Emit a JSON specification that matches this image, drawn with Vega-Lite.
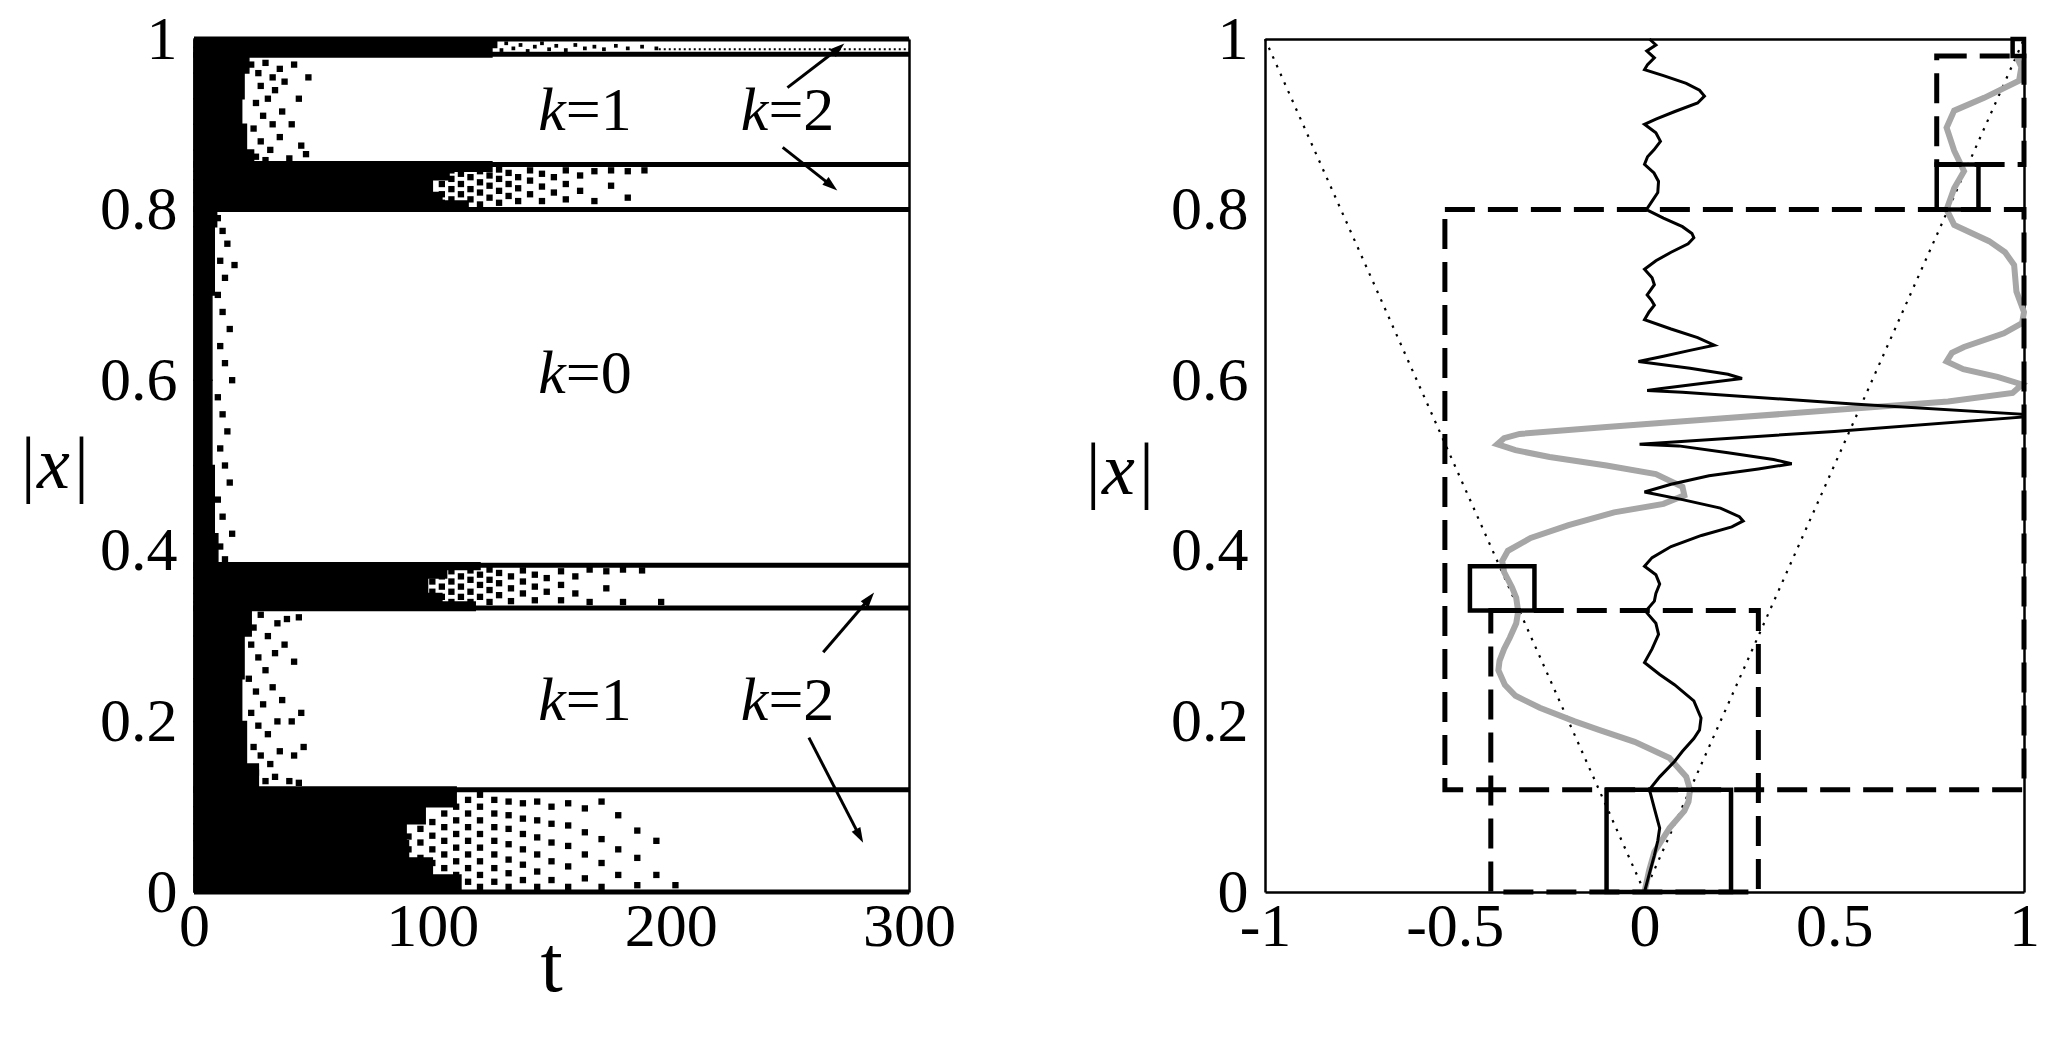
{
  "$schema": "https://vega.github.io/schema/vega-lite/v6.json",
  "background": "white",
  "padding": {"left": 16, "top": 8, "right": 5, "bottom": 5},
  "spacing": 356,
  "bounds": "flush",
  "config": {
    "view": {"stroke": null},
    "font": "Liberation Serif, 'Times New Roman', 'DejaVu Serif', serif",
    "axis": {
      "grid": false, "domainColor": "black", "domainWidth": 2.5,
      "tickColor": "black", "tickWidth": 1.6, "tickSize": 0,
      "labelFont": "Liberation Serif, 'Times New Roman', 'DejaVu Serif', serif", "labelFontSize": 62, "labelColor": "black",
      "labelFlush": false, "labelOverlap": false,
      "titleFont": "Liberation Serif, 'Times New Roman', 'DejaVu Serif', serif", "titleColor": "black", "titleFontWeight": "normal"
    }
  },
  "datasets": {
    "bands": [
      {"y0": 0.979, "y1": 0.99, "t": 125}, {"y0": 0.99, "y1": 1.0, "t": 127},
      {"y0": 0.85, "y1": 0.87, "t": 25}, {"y0": 0.87, "y1": 0.9, "t": 22}, {"y0": 0.9, "y1": 0.93, "t": 20}, {"y0": 0.93, "y1": 0.96, "t": 21}, {"y0": 0.96, "y1": 0.984, "t": 23},
      {"y0": 0.798, "y1": 0.81, "t": 115}, {"y0": 0.81, "y1": 0.82, "t": 104}, {"y0": 0.82, "y1": 0.835, "t": 100}, {"y0": 0.835, "y1": 0.845, "t": 107}, {"y0": 0.845, "y1": 0.856, "t": 125},
      {"y0": 0.38, "y1": 0.42, "t": 10}, {"y0": 0.42, "y1": 0.5, "t": 8.5}, {"y0": 0.5, "y1": 0.6, "t": 7.5}, {"y0": 0.6, "y1": 0.7, "t": 7.5}, {"y0": 0.7, "y1": 0.78, "t": 8.5}, {"y0": 0.78, "y1": 0.803, "t": 9.5},
      {"y0": 0.33, "y1": 0.34, "t": 118}, {"y0": 0.34, "y1": 0.35, "t": 104}, {"y0": 0.35, "y1": 0.368, "t": 98}, {"y0": 0.368, "y1": 0.378, "t": 106}, {"y0": 0.378, "y1": 0.386, "t": 120},
      {"y0": 0.117, "y1": 0.15, "t": 27}, {"y0": 0.15, "y1": 0.2, "t": 22}, {"y0": 0.2, "y1": 0.25, "t": 20}, {"y0": 0.25, "y1": 0.3, "t": 21}, {"y0": 0.3, "y1": 0.335, "t": 24},
      {"y0": 0.0, "y1": 0.02, "t": 112}, {"y0": 0.02, "y1": 0.04, "t": 100}, {"y0": 0.04, "y1": 0.06, "t": 90}, {"y0": 0.06, "y1": 0.08, "t": 89}, {"y0": 0.08, "y1": 0.1, "t": 97}, {"y0": 0.1, "y1": 0.123, "t": 110}
    ],
    "lines": [{"y": 1.0}, {"y": 0.982}, {"y": 0.853}, {"y": 0.8}, {"y": 0.383}, {"y": 0.333}, {"y": 0.12}, {"y": 0.0}],
    "faint": [{"t0": 195, "t1": 300, "y": 0.988}],
    "topdots": [
      {"t": 126, "y": 0.992}, {"t": 129, "y": 0.987}, {"t": 131, "y": 0.995}, {"t": 134, "y": 0.989}, {"t": 137, "y": 0.993}, {"t": 140, "y": 0.986}, {"t": 143, "y": 0.991}, {"t": 146, "y": 0.995}, {"t": 149, "y": 0.988}, {"t": 152, "y": 0.992}, {"t": 156, "y": 0.987}, {"t": 160, "y": 0.993}, {"t": 164, "y": 0.989}, {"t": 168, "y": 0.991}, {"t": 172, "y": 0.988}, {"t": 177, "y": 0.992}, {"t": 182, "y": 0.989}, {"t": 188, "y": 0.991}, {"t": 194, "y": 0.989}
    ],
    "dots": [
      {"t": 104, "y": 0.808}, {"t": 104, "y": 0.818}, {"t": 104, "y": 0.83}, {"t": 104, "y": 0.842},
      {"t": 108, "y": 0.812}, {"t": 108, "y": 0.824}, {"t": 108, "y": 0.836}, {"t": 108, "y": 0.846},
      {"t": 112, "y": 0.806}, {"t": 112, "y": 0.818}, {"t": 112, "y": 0.83}, {"t": 112, "y": 0.842},
      {"t": 116, "y": 0.812}, {"t": 116, "y": 0.824}, {"t": 116, "y": 0.838},
      {"t": 120, "y": 0.806}, {"t": 120, "y": 0.82}, {"t": 120, "y": 0.832}, {"t": 120, "y": 0.845},
      {"t": 124, "y": 0.814}, {"t": 124, "y": 0.828}, {"t": 124, "y": 0.84},
      {"t": 128, "y": 0.808}, {"t": 128, "y": 0.822}, {"t": 128, "y": 0.836}, {"t": 128, "y": 0.847},
      {"t": 132, "y": 0.816}, {"t": 132, "y": 0.83}, {"t": 132, "y": 0.843},
      {"t": 136, "y": 0.81}, {"t": 136, "y": 0.825}, {"t": 136, "y": 0.838},
      {"t": 141, "y": 0.818}, {"t": 141, "y": 0.834}, {"t": 141, "y": 0.846},
      {"t": 146, "y": 0.81}, {"t": 146, "y": 0.827}, {"t": 146, "y": 0.842},
      {"t": 151, "y": 0.82}, {"t": 151, "y": 0.838},
      {"t": 156, "y": 0.812}, {"t": 156, "y": 0.83}, {"t": 156, "y": 0.846},
      {"t": 162, "y": 0.822}, {"t": 162, "y": 0.84},
      {"t": 168, "y": 0.81}, {"t": 168, "y": 0.845},
      {"t": 175, "y": 0.828}, {"t": 175, "y": 0.846},
      {"t": 182, "y": 0.814}, {"t": 182, "y": 0.845}, {"t": 189, "y": 0.846},

      {"t": 100, "y": 0.34}, {"t": 100, "y": 0.352}, {"t": 100, "y": 0.364}, {"t": 100, "y": 0.376},
      {"t": 104, "y": 0.346}, {"t": 104, "y": 0.358}, {"t": 104, "y": 0.37},
      {"t": 108, "y": 0.34}, {"t": 108, "y": 0.352}, {"t": 108, "y": 0.364}, {"t": 108, "y": 0.376},
      {"t": 112, "y": 0.346}, {"t": 112, "y": 0.358}, {"t": 112, "y": 0.37},
      {"t": 116, "y": 0.34}, {"t": 116, "y": 0.352}, {"t": 116, "y": 0.366}, {"t": 116, "y": 0.377},
      {"t": 120, "y": 0.346}, {"t": 120, "y": 0.36}, {"t": 120, "y": 0.372},
      {"t": 124, "y": 0.34}, {"t": 124, "y": 0.354}, {"t": 124, "y": 0.366}, {"t": 124, "y": 0.378},
      {"t": 128, "y": 0.348}, {"t": 128, "y": 0.362}, {"t": 128, "y": 0.374},
      {"t": 133, "y": 0.341}, {"t": 133, "y": 0.356}, {"t": 133, "y": 0.37},
      {"t": 138, "y": 0.35}, {"t": 138, "y": 0.364}, {"t": 138, "y": 0.377},
      {"t": 143, "y": 0.342}, {"t": 143, "y": 0.358}, {"t": 143, "y": 0.372},
      {"t": 148, "y": 0.352}, {"t": 148, "y": 0.368},
      {"t": 154, "y": 0.342}, {"t": 154, "y": 0.36}, {"t": 154, "y": 0.376},
      {"t": 160, "y": 0.35}, {"t": 160, "y": 0.37},
      {"t": 166, "y": 0.34}, {"t": 166, "y": 0.378},
      {"t": 173, "y": 0.356}, {"t": 173, "y": 0.376},
      {"t": 180, "y": 0.34}, {"t": 180, "y": 0.378}, {"t": 188, "y": 0.377}, {"t": 196, "y": 0.34},

      {"t": 90, "y": 0.05}, {"t": 90, "y": 0.065},
      {"t": 95, "y": 0.04}, {"t": 95, "y": 0.058}, {"t": 95, "y": 0.074},
      {"t": 100, "y": 0.034}, {"t": 100, "y": 0.05}, {"t": 100, "y": 0.066}, {"t": 100, "y": 0.082},
      {"t": 105, "y": 0.028}, {"t": 105, "y": 0.044}, {"t": 105, "y": 0.06}, {"t": 105, "y": 0.076}, {"t": 105, "y": 0.092},
      {"t": 110, "y": 0.02}, {"t": 110, "y": 0.036}, {"t": 110, "y": 0.052}, {"t": 110, "y": 0.068}, {"t": 110, "y": 0.084}, {"t": 110, "y": 0.1},
      {"t": 115, "y": 0.012}, {"t": 115, "y": 0.028}, {"t": 115, "y": 0.044}, {"t": 115, "y": 0.06}, {"t": 115, "y": 0.076}, {"t": 115, "y": 0.092}, {"t": 115, "y": 0.108},
      {"t": 120, "y": 0.006}, {"t": 120, "y": 0.02}, {"t": 120, "y": 0.036}, {"t": 120, "y": 0.052}, {"t": 120, "y": 0.068}, {"t": 120, "y": 0.084}, {"t": 120, "y": 0.1}, {"t": 120, "y": 0.114},
      {"t": 126, "y": 0.012}, {"t": 126, "y": 0.028}, {"t": 126, "y": 0.044}, {"t": 126, "y": 0.06}, {"t": 126, "y": 0.076}, {"t": 126, "y": 0.092}, {"t": 126, "y": 0.108},
      {"t": 132, "y": 0.006}, {"t": 132, "y": 0.022}, {"t": 132, "y": 0.038}, {"t": 132, "y": 0.056}, {"t": 132, "y": 0.074}, {"t": 132, "y": 0.09}, {"t": 132, "y": 0.106},
      {"t": 138, "y": 0.014}, {"t": 138, "y": 0.032}, {"t": 138, "y": 0.05}, {"t": 138, "y": 0.068}, {"t": 138, "y": 0.086}, {"t": 138, "y": 0.104},
      {"t": 144, "y": 0.006}, {"t": 144, "y": 0.024}, {"t": 144, "y": 0.044}, {"t": 144, "y": 0.064}, {"t": 144, "y": 0.084}, {"t": 144, "y": 0.106},
      {"t": 150, "y": 0.014}, {"t": 150, "y": 0.036}, {"t": 150, "y": 0.058}, {"t": 150, "y": 0.08}, {"t": 150, "y": 0.1},
      {"t": 157, "y": 0.006}, {"t": 157, "y": 0.03}, {"t": 157, "y": 0.054}, {"t": 157, "y": 0.078}, {"t": 157, "y": 0.104},
      {"t": 164, "y": 0.016}, {"t": 164, "y": 0.044}, {"t": 164, "y": 0.07}, {"t": 164, "y": 0.098},
      {"t": 171, "y": 0.006}, {"t": 171, "y": 0.034}, {"t": 171, "y": 0.062}, {"t": 171, "y": 0.106},
      {"t": 178, "y": 0.02}, {"t": 178, "y": 0.05}, {"t": 178, "y": 0.09},
      {"t": 186, "y": 0.008}, {"t": 186, "y": 0.04}, {"t": 186, "y": 0.072},
      {"t": 194, "y": 0.02}, {"t": 194, "y": 0.06}, {"t": 202, "y": 0.008},

      {"t": 24, "y": 0.97}, {"t": 27, "y": 0.96}, {"t": 30, "y": 0.972}, {"t": 33, "y": 0.955}, {"t": 36, "y": 0.965}, {"t": 28, "y": 0.945}, {"t": 31, "y": 0.93}, {"t": 34, "y": 0.94}, {"t": 38, "y": 0.95}, {"t": 26, "y": 0.925}, {"t": 29, "y": 0.91}, {"t": 33, "y": 0.9}, {"t": 37, "y": 0.915}, {"t": 25, "y": 0.895}, {"t": 28, "y": 0.88}, {"t": 32, "y": 0.87}, {"t": 36, "y": 0.885}, {"t": 41, "y": 0.9}, {"t": 45, "y": 0.875}, {"t": 47, "y": 0.865}, {"t": 26, "y": 0.862}, {"t": 30, "y": 0.858}, {"t": 40, "y": 0.86}, {"t": 44, "y": 0.93}, {"t": 48, "y": 0.955}, {"t": 42, "y": 0.97},

      {"t": 22, "y": 0.32}, {"t": 25, "y": 0.31}, {"t": 28, "y": 0.325}, {"t": 31, "y": 0.3}, {"t": 35, "y": 0.315}, {"t": 39, "y": 0.32}, {"t": 44, "y": 0.322}, {"t": 24, "y": 0.29}, {"t": 27, "y": 0.275}, {"t": 30, "y": 0.26}, {"t": 34, "y": 0.28}, {"t": 38, "y": 0.29}, {"t": 42, "y": 0.27}, {"t": 23, "y": 0.25}, {"t": 26, "y": 0.235}, {"t": 29, "y": 0.22}, {"t": 33, "y": 0.24}, {"t": 37, "y": 0.225}, {"t": 41, "y": 0.2}, {"t": 45, "y": 0.21}, {"t": 24, "y": 0.21}, {"t": 27, "y": 0.195}, {"t": 31, "y": 0.185}, {"t": 35, "y": 0.2}, {"t": 25, "y": 0.17}, {"t": 28, "y": 0.16}, {"t": 32, "y": 0.15}, {"t": 36, "y": 0.165}, {"t": 42, "y": 0.16}, {"t": 46, "y": 0.17}, {"t": 26, "y": 0.14}, {"t": 30, "y": 0.13}, {"t": 34, "y": 0.135}, {"t": 40, "y": 0.13}, {"t": 44, "y": 0.128},

      {"t": 10, "y": 0.79}, {"t": 12, "y": 0.775}, {"t": 14, "y": 0.76}, {"t": 11, "y": 0.74}, {"t": 13, "y": 0.72}, {"t": 17, "y": 0.735}, {"t": 10, "y": 0.7}, {"t": 12, "y": 0.68}, {"t": 15, "y": 0.66}, {"t": 11, "y": 0.64}, {"t": 13, "y": 0.62}, {"t": 16, "y": 0.6}, {"t": 10, "y": 0.58}, {"t": 12, "y": 0.56}, {"t": 14, "y": 0.54}, {"t": 11, "y": 0.52}, {"t": 13, "y": 0.5}, {"t": 15, "y": 0.48}, {"t": 10, "y": 0.46}, {"t": 12, "y": 0.44}, {"t": 16, "y": 0.42}, {"t": 11, "y": 0.405}, {"t": 13, "y": 0.39}
    ],
    "ktext": [
      {"t": 156, "y": 0.916, "rest": "=1"}, {"t": 241, "y": 0.916, "rest": "=2"},
      {"t": 156, "y": 0.607, "rest": "=0"},
      {"t": 156, "y": 0.224, "rest": "=1"}, {"t": 241, "y": 0.224, "rest": "=2"}
    ],
    "arrows": [
      {"id": "A1", "t0": 249, "y0": 0.943, "t1": 270, "y1": 0.988},
      {"id": "A2", "t0": 247, "y0": 0.873, "t1": 267, "y1": 0.829},
      {"id": "A3", "t0": 264, "y0": 0.281, "t1": 283, "y1": 0.343},
      {"id": "A4", "t0": 258, "y0": 0.181, "t1": 279, "y1": 0.067}
    ],
    "vee": [{"x": -1, "y": 1}, {"x": 0, "y": 0}, {"x": 1, "y": 1}],
    "gray": [
      {"y": 0.0, "x": 0.0}, {"y": 0.025, "x": 0.012}, {"y": 0.047, "x": 0.026}, {"y": 0.075, "x": 0.066}, {"y": 0.095, "x": 0.105}, {"y": 0.106, "x": 0.116}, {"y": 0.12, "x": 0.12}, {"y": 0.135, "x": 0.11}, {"y": 0.157, "x": 0.066}, {"y": 0.176, "x": -0.026}, {"y": 0.19, "x": -0.12}, {"y": 0.2, "x": -0.184}, {"y": 0.216, "x": -0.276}, {"y": 0.23, "x": -0.34}, {"y": 0.243, "x": -0.368}, {"y": 0.26, "x": -0.385}, {"y": 0.271, "x": -0.382}, {"y": 0.285, "x": -0.37}, {"y": 0.298, "x": -0.355}, {"y": 0.315, "x": -0.338}, {"y": 0.329, "x": -0.333}, {"y": 0.345, "x": -0.338}, {"y": 0.357, "x": -0.349}, {"y": 0.375, "x": -0.37}, {"y": 0.388, "x": -0.375}, {"y": 0.4, "x": -0.36}, {"y": 0.415, "x": -0.3}, {"y": 0.43, "x": -0.2}, {"y": 0.445, "x": -0.08}, {"y": 0.455, "x": 0.05}, {"y": 0.465, "x": 0.105}, {"y": 0.475, "x": 0.1}, {"y": 0.49, "x": 0.03}, {"y": 0.5, "x": -0.1}, {"y": 0.51, "x": -0.25}, {"y": 0.518, "x": -0.34}, {"y": 0.525, "x": -0.388}, {"y": 0.532, "x": -0.37}, {"y": 0.537, "x": -0.329}, {"y": 0.545, "x": -0.1}, {"y": 0.555, "x": 0.2}, {"y": 0.565, "x": 0.5}, {"y": 0.575, "x": 0.8}, {"y": 0.585, "x": 0.97}, {"y": 0.595, "x": 0.995}, {"y": 0.604, "x": 0.93}, {"y": 0.613, "x": 0.84}, {"y": 0.622, "x": 0.796}, {"y": 0.632, "x": 0.81}, {"y": 0.639, "x": 0.842}, {"y": 0.655, "x": 0.947}, {"y": 0.667, "x": 0.995}, {"y": 0.68, "x": 1.0}, {"y": 0.704, "x": 0.98}, {"y": 0.735, "x": 0.974}, {"y": 0.75, "x": 0.95}, {"y": 0.763, "x": 0.908}, {"y": 0.782, "x": 0.816}, {"y": 0.8, "x": 0.796}, {"y": 0.825, "x": 0.816}, {"y": 0.845, "x": 0.842}, {"y": 0.869, "x": 0.816}, {"y": 0.896, "x": 0.796}, {"y": 0.916, "x": 0.816}, {"y": 0.931, "x": 0.895}, {"y": 0.951, "x": 0.987}, {"y": 0.967, "x": 0.993}, {"y": 0.98, "x": 0.98}
    ],
    "black": [
      {"y": 1.0, "x": 0.013}, {"y": 0.993, "x": 0.03}, {"y": 0.986, "x": 0.006}, {"y": 0.978, "x": 0.026}, {"y": 0.97, "x": 0.008}, {"y": 0.964, "x": 0.0}, {"y": 0.957, "x": 0.05}, {"y": 0.948, "x": 0.11}, {"y": 0.94, "x": 0.145}, {"y": 0.933, "x": 0.158}, {"y": 0.925, "x": 0.14}, {"y": 0.915, "x": 0.08}, {"y": 0.906, "x": 0.03}, {"y": 0.9, "x": 0.0}, {"y": 0.89, "x": 0.03}, {"y": 0.88, "x": 0.042}, {"y": 0.87, "x": 0.025}, {"y": 0.862, "x": 0.008}, {"y": 0.853, "x": 0.0}, {"y": 0.843, "x": 0.025}, {"y": 0.833, "x": 0.037}, {"y": 0.82, "x": 0.035}, {"y": 0.81, "x": 0.02}, {"y": 0.8, "x": 0.005}, {"y": 0.79, "x": 0.05}, {"y": 0.78, "x": 0.1}, {"y": 0.772, "x": 0.125}, {"y": 0.767, "x": 0.13}, {"y": 0.76, "x": 0.115}, {"y": 0.75, "x": 0.07}, {"y": 0.74, "x": 0.03}, {"y": 0.73, "x": 0.0}, {"y": 0.72, "x": 0.02}, {"y": 0.712, "x": 0.026}, {"y": 0.705, "x": 0.015}, {"y": 0.7, "x": 0.007}, {"y": 0.694, "x": 0.018}, {"y": 0.688, "x": 0.026}, {"y": 0.68, "x": 0.012}, {"y": 0.671, "x": 0.0}, {"y": 0.66, "x": 0.07}, {"y": 0.65, "x": 0.14}, {"y": 0.641, "x": 0.184}, {"y": 0.635, "x": 0.12}, {"y": 0.628, "x": 0.05}, {"y": 0.622, "x": -0.016}, {"y": 0.614, "x": 0.12}, {"y": 0.607, "x": 0.22}, {"y": 0.602, "x": 0.257}, {"y": 0.596, "x": 0.15}, {"y": 0.59, "x": 0.04}, {"y": 0.588, "x": 0.007}, {"y": 0.586, "x": 0.1}, {"y": 0.572, "x": 0.55}, {"y": 0.56, "x": 1.0}, {"y": 0.557, "x": 1.0}, {"y": 0.54, "x": 0.5}, {"y": 0.525, "x": -0.013}, {"y": 0.523, "x": 0.09}, {"y": 0.515, "x": 0.22}, {"y": 0.507, "x": 0.34}, {"y": 0.502, "x": 0.388}, {"y": 0.496, "x": 0.3}, {"y": 0.488, "x": 0.17}, {"y": 0.478, "x": 0.07}, {"y": 0.469, "x": 0.0}, {"y": 0.46, "x": 0.1}, {"y": 0.45, "x": 0.2}, {"y": 0.44, "x": 0.25}, {"y": 0.435, "x": 0.26}, {"y": 0.428, "x": 0.23}, {"y": 0.418, "x": 0.15}, {"y": 0.405, "x": 0.07}, {"y": 0.392, "x": 0.02}, {"y": 0.382, "x": 0.0}, {"y": 0.372, "x": 0.03}, {"y": 0.361, "x": 0.04}, {"y": 0.35, "x": 0.03}, {"y": 0.341, "x": 0.026}, {"y": 0.329, "x": 0.003}, {"y": 0.315, "x": 0.03}, {"y": 0.302, "x": 0.037}, {"y": 0.285, "x": 0.02}, {"y": 0.269, "x": 0.0}, {"y": 0.255, "x": 0.04}, {"y": 0.243, "x": 0.079}, {"y": 0.224, "x": 0.13}, {"y": 0.204, "x": 0.149}, {"y": 0.19, "x": 0.145}, {"y": 0.18, "x": 0.13}, {"y": 0.165, "x": 0.1}, {"y": 0.153, "x": 0.079}, {"y": 0.135, "x": 0.04}, {"y": 0.12, "x": 0.013}, {"y": 0.098, "x": 0.026}, {"y": 0.075, "x": 0.04}, {"y": 0.06, "x": 0.035}, {"y": 0.043, "x": 0.026}, {"y": 0.02, "x": 0.012}, {"y": 0.0, "x": 0.0}
    ],
    "solid": [
      {"x0": -0.1, "x1": 0.228, "y0": 0.0, "y1": 0.12},
      {"x0": -0.46, "x1": -0.29, "y0": 0.33, "y1": 0.382},
      {"x0": 0.77, "x1": 0.88, "y0": 0.8, "y1": 0.853},
      {"x0": 0.97, "x1": 1.0, "y0": 0.98, "y1": 1.0}
    ],
    "dashed": [
      {"x0": -0.526, "x1": 1.0, "y0": 0.12, "y1": 0.8},
      {"x0": -0.405, "x1": 0.3, "y0": 0.0, "y1": 0.33},
      {"x0": 0.77, "x1": 1.0, "y0": 0.853, "y1": 0.98}
    ]
  },
  "hconcat": [
    {
      "width": 715,
      "height": 853,
      "resolve": {"axis": {"x": "independent", "y": "independent"}},
      "layer": [
        {
          "data": {"name": "bands"},
          "mark": {"type": "rect", "color": "black", "opacity": 1, "stroke": "black", "strokeWidth": 1.5},
          "encoding": {
            "x": {"field": "t", "type": "quantitative", "scale": {"domain": [0, 300], "nice": false}, "axis": null},
            "x2": {"datum": 0},
            "y": {"field": "y0", "type": "quantitative", "scale": {"domain": [0, 1], "nice": false}, "axis": null},
            "y2": {"field": "y1"}
          }
        },
        {
          "data": {"name": "lines"},
          "mark": {"type": "rule", "color": "black", "strokeWidth": 5},
          "encoding": {
            "y": {"field": "y", "type": "quantitative", "scale": {"domain": [0, 1], "nice": false}, "axis": null}
          }
        },
        {
          "data": {"name": "faint"},
          "mark": {"type": "rule", "color": "black", "strokeWidth": 2, "strokeDash": [2, 3]},
          "encoding": {
            "x": {"field": "t0", "type": "quantitative", "scale": {"domain": [0, 300], "nice": false}, "axis": null},
            "x2": {"field": "t1"},
            "y": {"field": "y", "type": "quantitative", "scale": {"domain": [0, 1], "nice": false}, "axis": null}
          }
        },
        {
          "data": {"name": "topdots"},
          "mark": {"type": "point", "shape": "square", "filled": true, "size": 14, "color": "black", "opacity": 1},
          "encoding": {
            "x": {"field": "t", "type": "quantitative", "scale": {"domain": [0, 300], "nice": false}, "axis": null},
            "y": {"field": "y", "type": "quantitative", "scale": {"domain": [0, 1], "nice": false}, "axis": null}
          }
        },
        {
          "data": {"name": "dots"},
          "mark": {"type": "point", "shape": "square", "filled": true, "size": 40, "color": "black", "opacity": 1},
          "encoding": {
            "x": {"field": "t", "type": "quantitative", "scale": {"domain": [0, 300], "nice": false},
              "axis": {"orient": "bottom", "values": [0, 50, 100, 150, 200, 250, 300],
                "labelExpr": "datum.value % 100 === 0 ? '' + datum.value : ''",
                "labelPadding": 4,
                "title": "t", "titleFontSize": 80, "titleX": 357, "titleY": 98, "titleAlign": "center", "titleBaseline": "alphabetic",
                "encode": {"ticks": {"update": {"y2": {"signal": "datum.value % 100 === 0 ? -28 : -14"}}}}}},
            "y": {"field": "y", "type": "quantitative", "scale": {"domain": [0, 1], "nice": false},
              "axis": {"orient": "left", "values": [0, 0.1, 0.2, 0.3, 0.4, 0.5, 0.6, 0.7, 0.8, 0.9, 1],
                "labelExpr": "round(datum.value * 10) % 2 === 0 ? '' + datum.value : ''",
                "labelPadding": 17,
                "title": "|x|", "titleFontStyle": "italic", "titleFontSize": 74, "titleAngle": 0, "titleX": -141, "titleY": 426, "titleAlign": "center", "titleBaseline": "middle",
                "encode": {"ticks": {"update": {"x2": {"signal": "round(datum.value * 10) % 2 === 0 ? 28 : 14"}}}}}}
          }
        },
        {
          "data": {"name": "ktext"},
          "mark": {"type": "text", "text": "k", "font": "Liberation Serif, 'Times New Roman', 'DejaVu Serif', serif", "fontStyle": "italic", "fontSize": 62, "align": "right", "baseline": "middle", "color": "black"},
          "encoding": {
            "x": {"field": "t", "type": "quantitative", "scale": {"domain": [0, 300], "nice": false},
              "axis": {"orient": "top", "values": [0, 50, 100, 150, 200, 250, 300], "labels": false, "title": null,
                "encode": {"ticks": {"update": {"y2": {"signal": "datum.value % 100 === 0 ? 28 : 14"}}}}}},
            "y": {"field": "y", "type": "quantitative", "scale": {"domain": [0, 1], "nice": false},
              "axis": {"orient": "right", "values": [0, 0.1, 0.2, 0.3, 0.4, 0.5, 0.6, 0.7, 0.8, 0.9, 1], "labels": false, "title": null,
                "encode": {"ticks": {"update": {"x2": {"signal": "round(datum.value * 10) % 2 === 0 ? -28 : -14"}}}}}}
          }
        },
        {
          "data": {"name": "ktext"},
          "mark": {"type": "text", "font": "Liberation Serif, 'Times New Roman', 'DejaVu Serif', serif", "fontSize": 62, "align": "left", "baseline": "middle", "color": "black"},
          "encoding": {
            "x": {"field": "t", "type": "quantitative", "scale": {"domain": [0, 300], "nice": false}, "axis": null},
            "y": {"field": "y", "type": "quantitative", "scale": {"domain": [0, 1], "nice": false}, "axis": null},
            "text": {"field": "rest"}
          }
        },
        {
          "data": {"name": "arrows"},
          "mark": {"type": "rule", "color": "black", "strokeWidth": 3},
          "encoding": {
            "x": {"field": "t0", "type": "quantitative", "scale": {"domain": [0, 300], "nice": false}, "axis": null},
            "x2": {"field": "t1"},
            "y": {"field": "y0", "type": "quantitative", "scale": {"domain": [0, 1], "nice": false}, "axis": null},
            "y2": {"field": "y1"}
          }
        },
        {
          "data": {"name": "arrows"},
          "transform": [{"filter": "datum.id === 'A1'"}],
          "mark": {"type": "point", "shape": "M0,-1L0.55,0.7L-0.55,0.7Z", "filled": true, "size": 320, "color": "black", "opacity": 1, "angle": 50},
          "encoding": {
            "x": {"field": "t1", "type": "quantitative", "scale": {"domain": [0, 300], "nice": false}, "axis": null},
            "y": {"field": "y1", "type": "quantitative", "scale": {"domain": [0, 1], "nice": false}, "axis": null}
          }
        },
        {
          "data": {"name": "arrows"},
          "transform": [{"filter": "datum.id === 'A2'"}],
          "mark": {"type": "point", "shape": "M0,-1L0.55,0.7L-0.55,0.7Z", "filled": true, "size": 320, "color": "black", "opacity": 1, "angle": 129},
          "encoding": {
            "x": {"field": "t1", "type": "quantitative", "scale": {"domain": [0, 300], "nice": false}, "axis": null},
            "y": {"field": "y1", "type": "quantitative", "scale": {"domain": [0, 1], "nice": false}, "axis": null}
          }
        },
        {
          "data": {"name": "arrows"},
          "transform": [{"filter": "datum.id === 'A3'"}],
          "mark": {"type": "point", "shape": "M0,-1L0.55,0.7L-0.55,0.7Z", "filled": true, "size": 320, "color": "black", "opacity": 1, "angle": 39},
          "encoding": {
            "x": {"field": "t1", "type": "quantitative", "scale": {"domain": [0, 300], "nice": false}, "axis": null},
            "y": {"field": "y1", "type": "quantitative", "scale": {"domain": [0, 1], "nice": false}, "axis": null}
          }
        },
        {
          "data": {"name": "arrows"},
          "transform": [{"filter": "datum.id === 'A4'"}],
          "mark": {"type": "point", "shape": "M0,-1L0.55,0.7L-0.55,0.7Z", "filled": true, "size": 320, "color": "black", "opacity": 1, "angle": 152},
          "encoding": {
            "x": {"field": "t1", "type": "quantitative", "scale": {"domain": [0, 300], "nice": false}, "axis": null},
            "y": {"field": "y1", "type": "quantitative", "scale": {"domain": [0, 1], "nice": false}, "axis": null}
          }
        }
      ]
    },
    {
      "width": 759,
      "height": 853,
      "resolve": {"axis": {"x": "independent", "y": "independent"}},
      "layer": [
        {
          "data": {"name": "vee"},
          "mark": {"type": "line", "color": "black", "strokeWidth": 2.2, "strokeDash": [2.5, 7]},
          "encoding": {
            "x": {"field": "x", "type": "quantitative", "scale": {"domain": [-1, 1], "nice": false},
              "axis": {"orient": "top", "values": [-1, -0.75, -0.5, -0.25, 0, 0.25, 0.5, 0.75, 1], "labels": false, "title": null,
                "encode": {"ticks": {"update": {"y2": {"signal": "round(datum.value * 4) % 2 === 0 ? 28 : 14"}}}}}},
            "y": {"field": "y", "type": "quantitative", "scale": {"domain": [0, 1], "nice": false},
              "axis": {"orient": "right", "values": [0, 0.1, 0.2, 0.3, 0.4, 0.5, 0.6, 0.7, 0.8, 0.9, 1], "labels": false, "title": null,
                "encode": {"ticks": {"update": {"x2": {"signal": "round(datum.value * 10) % 2 === 0 ? -28 : -14"}}}}}}
          }
        },
        {
          "data": {"name": "gray"},
          "mark": {"type": "line", "color": "#a6a6a6", "strokeWidth": 6},
          "encoding": {
            "x": {"field": "x", "type": "quantitative", "scale": {"domain": [-1, 1], "nice": false}, "axis": null},
            "y": {"field": "y", "type": "quantitative", "scale": {"domain": [0, 1], "nice": false}, "axis": null},
            "order": {"field": "y", "type": "quantitative"}
          }
        },
        {
          "data": {"name": "black"},
          "mark": {"type": "line", "color": "black", "strokeWidth": 3},
          "encoding": {
            "x": {"field": "x", "type": "quantitative", "scale": {"domain": [-1, 1], "nice": false},
              "axis": {"orient": "bottom", "values": [-1, -0.75, -0.5, -0.25, 0, 0.25, 0.5, 0.75, 1],
                "labelExpr": "round(datum.value * 4) % 2 === 0 ? '' + datum.value : ''",
                "labelPadding": 4, "title": null,
                "encode": {"ticks": {"update": {"y2": {"signal": "round(datum.value * 4) % 2 === 0 ? -28 : -14"}}}}}},
            "y": {"field": "y", "type": "quantitative", "scale": {"domain": [0, 1], "nice": false},
              "axis": {"orient": "left", "values": [0, 0.1, 0.2, 0.3, 0.4, 0.5, 0.6, 0.7, 0.8, 0.9, 1],
                "labelExpr": "round(datum.value * 10) % 2 === 0 ? '' + datum.value : ''",
                "labelPadding": 17,
                "title": "|x|", "titleFontStyle": "italic", "titleFontSize": 74, "titleAngle": 0, "titleX": -147, "titleY": 432, "titleAlign": "center", "titleBaseline": "middle",
                "encode": {"ticks": {"update": {"x2": {"signal": "round(datum.value * 10) % 2 === 0 ? 28 : 14"}}}}}},
            "order": {"field": "y", "type": "quantitative"}
          }
        },
        {
          "data": {"name": "dashed"},
          "mark": {"type": "rect", "filled": false, "color": "black", "stroke": "black", "strokeWidth": 5, "strokeDash": [30, 13]},
          "encoding": {
            "x": {"field": "x0", "type": "quantitative", "scale": {"domain": [-1, 1], "nice": false}, "axis": null},
            "x2": {"field": "x1"},
            "y": {"field": "y0", "type": "quantitative", "scale": {"domain": [0, 1], "nice": false}, "axis": null},
            "y2": {"field": "y1"}
          }
        },
        {
          "data": {"name": "solid"},
          "mark": {"type": "rect", "filled": false, "color": "black", "stroke": "black", "strokeWidth": 4.5},
          "encoding": {
            "x": {"field": "x0", "type": "quantitative", "scale": {"domain": [-1, 1], "nice": false}, "axis": null},
            "x2": {"field": "x1"},
            "y": {"field": "y0", "type": "quantitative", "scale": {"domain": [0, 1], "nice": false}, "axis": null},
            "y2": {"field": "y1"}
          }
        }
      ]
    }
  ]
}
